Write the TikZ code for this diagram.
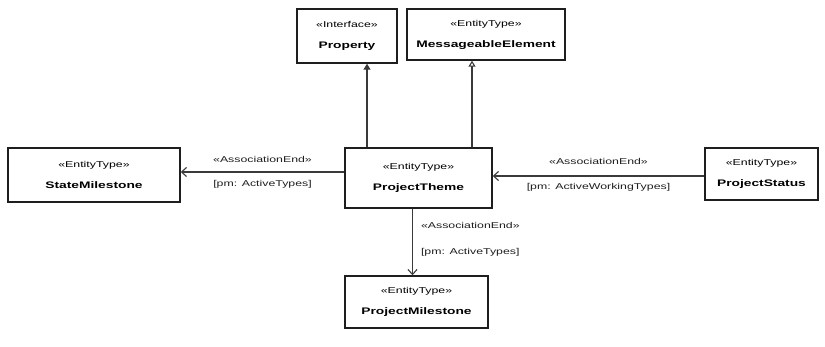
\documentclass[tikz,border=0pt]{standalone}
\usepackage{fontspec}
\setmainfont{Liberation Sans}
\newfontfamily\umlfont[FakeStretch=1.45]{Liberation Sans}
\usepackage{tikz}
\usetikzlibrary{arrows.meta,positioning,calc}
\definecolor{Ink}{HTML}{1E1E1E}
\definecolor{Edge}{HTML}{3A3A3A}
\newcommand{\stereo}[1]{{\fontsize{8.5}{9}\selectfont\mdseries\guillemotleft#1\guillemotright}}

\begin{document}
\begin{tikzpicture}[x=1pt,y=-1pt,
    entity/.style={draw=Ink,line width=1.4pt,fill=white,align=center,inner sep=2pt,
      font=\umlfont\fontsize{9.5}{21}\selectfont\bfseries},
    lbl/.style={font=\umlfont\fontsize{8.5}{9}\selectfont,color=Ink,inner sep=1pt},
    assoc/.style={draw=Edge,line width=1.1pt,-{Straight Barb[length=5pt,width=9pt]}}]
        \useasboundingbox (0,0) rectangle (825,347);
        % classes
        \node[entity,minimum width=100,minimum height=54] (prop) at (347,36) {\stereo{Interface}\\Property};
        \node[entity,minimum width=158,minimum height=51] (msg) at (486,34.5) {\stereo{EntityType}\\MessageableElement};
        \node[entity,minimum width=147,minimum height=60] (theme) at (418.5,178) {\stereo{EntityType}\\ProjectTheme};
        \node[entity,minimum width=172,minimum height=54] (state) at (94,175) {\stereo{EntityType}\\StateMilestone};
        \node[entity,minimum width=113,minimum height=52] (status) at (761.5,174) {\stereo{EntityType}\\ProjectStatus};
        \node[entity,minimum width=143,minimum height=52] (mile) at (416.5,302) {\stereo{EntityType}\\ProjectMilestone};
        % generalizations
        \coordinate (p1) at ([xshift=20pt]prop.south);
        \coordinate (m1) at ([xshift=-14pt]msg.south);
        \draw[draw=Edge,line width=1.1pt,-{Triangle[length=6pt,width=7pt]}] (theme.north -| p1) -- (p1);
        \draw[draw=Edge,line width=1.1pt,-{Triangle[open,length=6pt,width=7pt]}] (theme.north -| m1) -- (m1);
        % associations
        \coordinate (t1) at ([yshift=6pt]theme.west);
        \draw[assoc] (t1) -- (t1 -| state.east)
          node[lbl,pos=0.5,above=8pt] {\guillemotleft AssociationEnd\guillemotright}
          node[lbl,pos=0.5,below=7pt] {[pm: ActiveTypes]};
        \coordinate (s1) at ([yshift=-2pt]status.west);
        \draw[assoc] (s1) -- (s1 -| theme.east)
          node[lbl,pos=0.5,above=10pt] {\guillemotleft AssociationEnd\guillemotright}
          node[lbl,pos=0.5,below=6pt] {[pm: ActiveWorkingTypes]};
        \coordinate (d1) at ([xshift=-6pt]theme.south);
        \draw[assoc] (d1) -- (d1 |- mile.north)
          node[lbl,pos=0.25,right=7pt] {\guillemotleft AssociationEnd\guillemotright}
          node[lbl,pos=0.65,right=7pt] {[pm: ActiveTypes]};
      \end{tikzpicture}
\end{document}
